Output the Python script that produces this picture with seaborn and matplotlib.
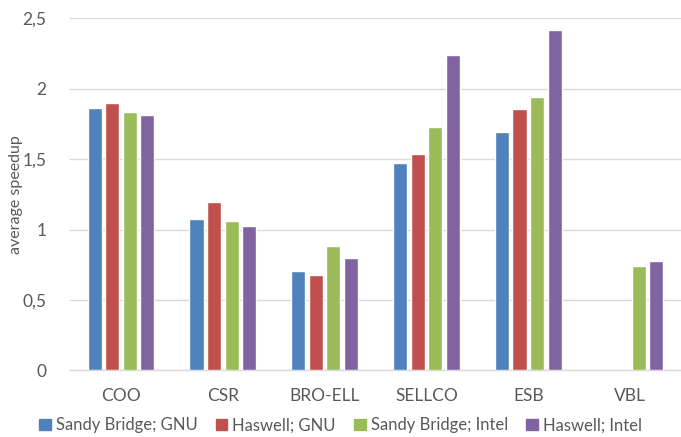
import numpy as np
import pandas as pd
import matplotlib
matplotlib.use("Agg")
import matplotlib.pyplot as plt
import seaborn as sns

formats = ["COO", "CSR", "BRO-ELL", "SELLCO", "ESB", "VBL"]
series = ["Sandy Bridge; GNU", "Haswell; GNU", "Sandy Bridge; Intel", "Haswell; Intel"]
sandy_gnu = [1.86, 1.075, 0.707, 1.474, 1.695, np.nan]
haswell_gnu = [1.896, 1.193, 0.675, 1.538, 1.858, np.nan]
sandy_intel = [1.835, 1.06, 0.885, 1.728, 1.943, 0.743]
haswell_intel = [1.811, 1.025, 0.795, 2.237, 2.419, 0.778]
colors = ["#4F81BD", "#C0504D", "#9BBB59", "#8064A2"]
y_ticks = [0, 0.5, 1, 1.5, 2, 2.5]

sns.set_theme(style="white")
plt.rcParams["font.family"] = ["Lato", "DejaVu Sans"]

rows = []
for name, vals in zip(series, [sandy_gnu, haswell_gnu, sandy_intel, haswell_intel]):
    for fmt, v in zip(formats, vals):
        rows.append({"format": fmt, "config": name, "speedup": v})
df = pd.DataFrame(rows)

fig = plt.figure(figsize=(6.81, 4.37), dpi=100)
ax = fig.add_axes([0.103, 0.1526, 0.897, 0.8054])

sns.barplot(data=df, x="format", y="speedup", hue="config", order=formats,
            hue_order=series, palette=colors, width=0.69, gap=0.2,
            saturation=1, errorbar=None, ax=ax, legend=False, zorder=3)

ax.set_ylim(0, 2.5)
ax.set_xlim(-0.5, len(formats) - 0.5)
ax.set_yticks(y_ticks)
ax.set_yticklabels([f"{t:g}".replace(".", ",") for t in y_ticks])
ax.yaxis.grid(True, color="#D9D9D9", linewidth=1.0, zorder=0)
ax.set_axisbelow(True)
for side in ["left", "right", "top"]:
    ax.spines[side].set_visible(False)
ax.spines["bottom"].set_color("#D9D9D9")
ax.spines["bottom"].set_linewidth(1.0)
ax.tick_params(axis="both", length=0, colors="#595959", labelsize=12.5)
ax.tick_params(axis="y", pad=17)
ax.tick_params(axis="x", pad=13)
ax.set_xlabel("")
ax.set_ylabel("average speedup", color="#595959", fontsize=11.5)
ax.yaxis.set_label_coords(-0.077, 0.5)

handles = [plt.Rectangle((0, 0), 1, 1, color=c) for c in colors]
fig.legend(handles, series, loc="center", bbox_to_anchor=(0.5, 0.027), ncol=4,
           frameon=False, fontsize=12, handlelength=0.7, handleheight=0.7,
           handletextpad=0.3, columnspacing=1.1, labelcolor="#595959")

fig.savefig("out.png", dpi=100)
